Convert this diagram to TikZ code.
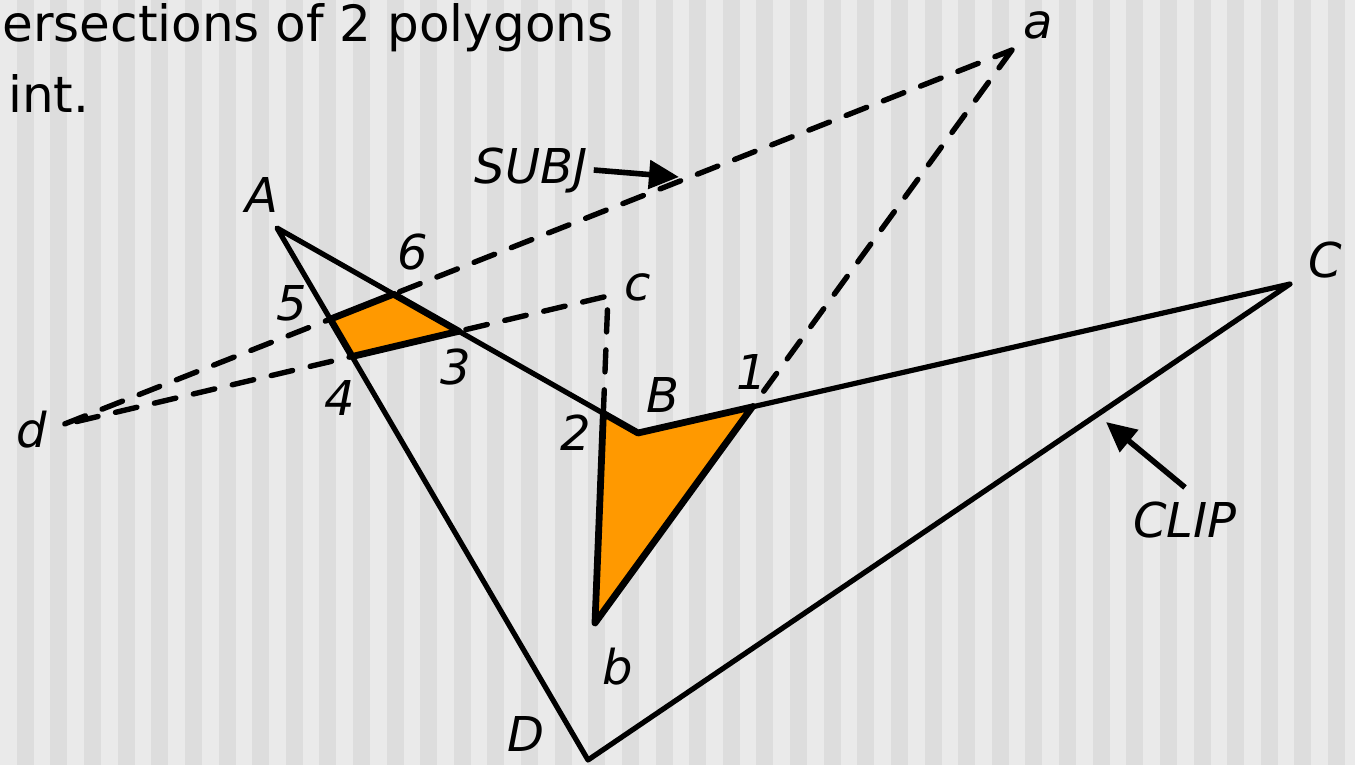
\documentclass[tikz,border=0pt]{standalone}
\usepackage{fontspec}
\setmainfont{DejaVu Sans}
\usetikzlibrary{arrows.meta}
\definecolor{bglight}{RGB}{234,234,234}
\definecolor{bgdark}{RGB}{221,221,221}
\definecolor{fillor}{RGB}{255,153,0}
\begin{document}
\begin{tikzpicture}[x=0.5pt,y=-0.5pt,
  clipline/.style={line width=2.6pt, line join=round},
  subjline/.style={line width=2.7pt, dash pattern=on 11pt off 9pt, line cap=round},
  region/.style={fill=fillor, draw=black, line width=3.4pt, line join=round},
  lbl/.style={font=\fontsize{24}{24}\selectfont\itshape, inner sep=0pt},
  toptext/.style={font=\fontsize{25}{25}\selectfont, inner sep=0pt, anchor=base west},
  pointer/.style={line width=2.8pt, -{Triangle[length=15pt,width=14pt]}}]

\useasboundingbox (0,0) rectangle (1355,765);
\fill[bglight] (0,0) rectangle (1355,765);
\foreach \k in {0,...,39} \fill[bgdark] ({16.8+33.62*\k},0) rectangle ++(17,765);

% clip polygon vertices
\coordinate (A) at (277,228);
\coordinate (B) at (638,433);
\coordinate (C) at (1290,284);
\coordinate (D) at (588,760);
% subject polygon vertices
\coordinate (a) at (1012,50);
\coordinate (b) at (595,623);
\coordinate (c) at (608,296);
\coordinate (d) at (62,425);
% intersections
\coordinate (p1) at (intersection of a--b and B--C);
\coordinate (p2) at (intersection of b--c and A--B);
\coordinate (p3) at (intersection of c--d and A--B);
\coordinate (p4) at (intersection of c--d and D--A);
\coordinate (p5) at (intersection of d--a and D--A);
\coordinate (p6) at (intersection of d--a and A--B);

\draw[subjline] (a) -- (b) -- (c) -- (d) -- cycle;
\draw[clipline] (A) -- (B) -- (C) -- (D) -- cycle;
\draw[region] (p5) -- (p6) -- (p3) -- (p4) -- cycle;
\draw[region] (p2) -- (B) -- (p1) -- (b) -- cycle;

% labels
\node[lbl] (lA) at (262,195) {A};
\node[lbl] (lB) at (663,395) {B};
\node[lbl] (lC) at (1325,260) {C};
\node[lbl] (lD) at (526,734) {D};
\node[lbl] (la) at (1038,25) {a};
\node[lbl] (lb) at (618,667) {b};
\node[lbl] (lc) at (638,287) {c};
\node[lbl] (ld) at (32,430) {d};
\node[lbl] (l1) at (752,372) {1};
\node[lbl] (l2) at (576,433) {2};
\node[lbl] (l3) at (456,367) {3};
\node[lbl] (l4) at (340,398) {4};
\node[lbl] (l5) at (292,303) {5};
\node[lbl] (l6) at (413,252) {6};
\node[lbl] (lsubj) at (531,170) {SUBJ};
\node[lbl] (lclip) at (1185,520) {CLIP};

\node[toptext] (t1) at (2,42) {ersections of 2 polygons};
\node[toptext] (t2) at (8,113) {int.};

% pointers
\coordinate (subjtip) at (679,177);
\coordinate (cliptip) at (1106,422);
\draw[pointer] ([xshift=3pt]lsubj.east) -- (subjtip);
\draw[pointer] ([yshift=7pt]lclip.north) -- (cliptip);
\end{tikzpicture}
\end{document}
